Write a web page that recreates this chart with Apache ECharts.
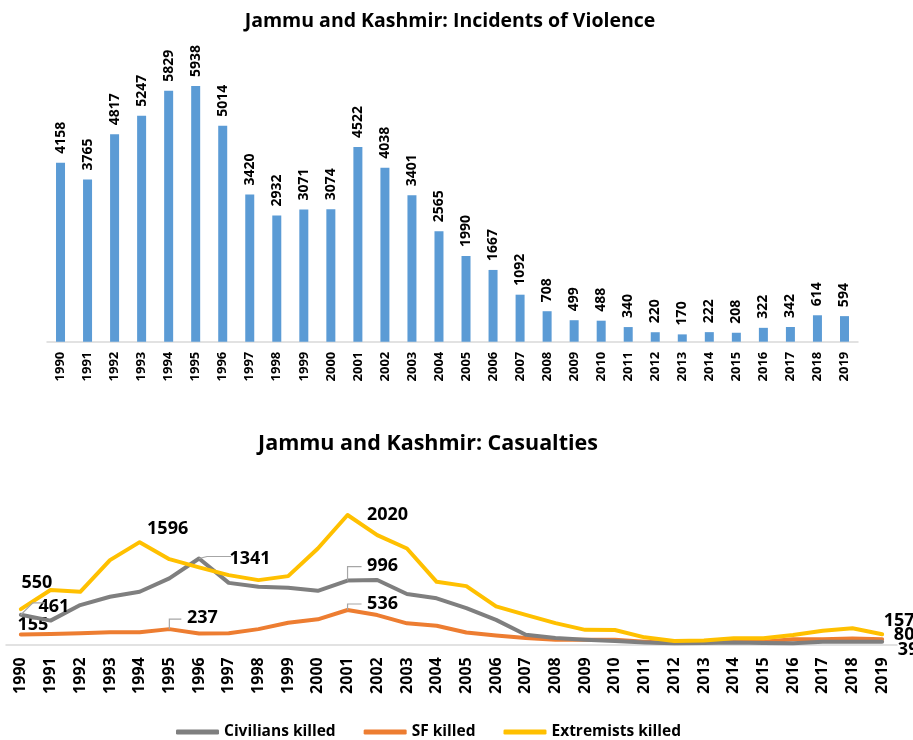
<!DOCTYPE html>
<html>
<head>
<meta charset="utf-8">
<script src="https://cdn.jsdelivr.net/npm/echarts@6/dist/echarts.min.js"></script>
<style>
html,body{margin:0;padding:0;background:#fff;}
#c{width:913px;height:740px;}
</style>
</head>
<body>
<div id="c"></div>
<script>
var years = ['1990','1991','1992','1993','1994','1995','1996','1997','1998','1999','2000','2001','2002','2003','2004','2005','2006','2007','2008','2009','2010','2011','2012','2013','2014','2015','2016','2017','2018','2019'];
var incidents = [4158,3765,4817,5247,5829,5938,5014,3420,2932,3071,3074,4522,4038,3401,2565,1990,1667,1092,708,499,488,340,220,170,222,208,322,342,614,594];
var civilians = [461,370,613,743,821,1030,1341,960,899,883,836,996,1005,785,718,565,382,148,97,70,50,30,15,20,28,20,15,40,40,39];
var sfKilled = [155,160,172,187,190,237,170,172,237,337,390,536,457,328,290,184,137,97,70,70,70,40,20,45,50,40,80,80,90,80];
var extremists = [550,848,821,1315,1596,1330,1201,1081,1003,1065,1497,2020,1705,1497,976,909,592,460,331,226,224,109,50,60,94,94,145,213,250,157];
var seriesNames = ['Civilians killed','SF killed','Extremists killed'];
var titles = ['Jammu and Kashmir: Incidents of Violence','Jammu and Kashmir: Casualties'];

var FONT = '"Open Sans", Lato, sans-serif';
// label placement styles: [dataIndex, dx, dy]
var labelStyles = {
  0: [[0, 33, -8], [6, 51, 0], [11, 35, -15], [29, 26, 8]],
  1: [[0, 12, -10], [5, 33, -11], [11, 35, -6], [29, 22, -4]],
  2: [[0, 16, -26], [4, 28, -13], [11, 40, 0], [29, 17, -13]]
};
// leader lines: [series, dataIndex, bend dx, bend dy, end dx]
var leaders = [
  [0, 0, 12, -12, 12],
  [0, 6, 8, -2, 24],
  [1, 5, 0, -10, 12],
  [0, 11, 0, -14, 14],
  [1, 11, 0, -6, 14]
];

function buildData(values, sIdx) {
  var ls = labelStyles[sIdx];
  return values.map(function (v, i) {
    var item = { value: v };
    for (var k = 0; k < ls.length; k++) {
      if (ls[k][0] === i) {
        item.label = { show: true, position: 'inside', offset: [ls[k][1], ls[k][2]] };
      }
    }
    return item;
  });
}

var colors = ['#7F7F7F', '#ED7D31', '#FFC000'];
var lineValues = [civilians, sfKilled, extremists];

var chart = echarts.init(document.getElementById('c'), null, { renderer: 'canvas' });

var option = {
  backgroundColor: '#fff',
  animation: false,
  title: [
    { text: titles[0], left: 445, top: 6, textAlign: 'center',
      textStyle: { fontFamily: FONT, fontSize: 19.5, fontWeight: 'bold', color: '#000' } },
    { text: titles[1], left: 423, top: 428, textAlign: 'center',
      textStyle: { fontFamily: FONT, fontSize: 21.5, fontWeight: 'bold', color: '#000' } }
  ],
  legend: {
    data: seriesNames,
    left: 171, top: 719,
    icon: 'roundRect', itemWidth: 43, itemHeight: 5, itemGap: 28,
    textStyle: { fontFamily: FONT, fontSize: 15.5, fontWeight: 'bold', color: '#000' }
  },
  grid: [
    { left: 47, width: 811, top: 83.4, height: 258.3 },
    { left: 6, width: 891, top: 484.3, height: 160 }
  ],
  xAxis: [
    { type: 'category', gridIndex: 0, data: years,
      axisLine: { lineStyle: { color: '#D9D9D9', width: 1.5 } },
      axisTick: { show: false },
      axisLabel: { interval: 0, rotate: 90, margin: 10, color: '#000',
        fontFamily: FONT, fontSize: 13, fontWeight: 'bold' } },
    { type: 'category', gridIndex: 1, data: years,
      axisLine: { lineStyle: { color: '#D9D9D9', width: 1.5 } },
      axisTick: { show: false },
      axisLabel: { interval: 0, rotate: 90, margin: 13, color: '#000',
        fontFamily: FONT, fontSize: 16, fontWeight: 'bold' } }
  ],
  yAxis: [
    { type: 'value', gridIndex: 0, min: 0, max: 6000, show: false, splitLine: { show: false } },
    { type: 'value', gridIndex: 1, min: 0, max: 2500, show: false, splitLine: { show: false } }
  ],
  series: [
    { type: 'bar', xAxisIndex: 0, yAxisIndex: 0, data: incidents, barWidth: 9,
      itemStyle: { color: '#5B9BD5' },
      label: { show: true, position: 'top', rotate: 90, align: 'left', verticalAlign: 'middle',
        distance: 9, color: '#000', fontFamily: FONT, fontSize: 14, fontWeight: 'bold' } }
  ].concat(seriesNames.map(function (name, s) {
    return {
      name: name, type: 'line', xAxisIndex: 1, yAxisIndex: 1,
      data: buildData(lineValues[s], s),
      symbol: 'circle', symbolSize: 0, showSymbol: true,
      color: colors[s],
      lineStyle: { width: 4, color: colors[s], cap: 'round', join: 'round' },
      label: { show: false, color: '#000', fontFamily: FONT, fontSize: 18, fontWeight: 'bold' },
      z: 2 + (s === 0 ? 1 : (s === 1 ? 0 : 2))
    };
  }))
};
chart.setOption(option);

var gfx = leaders.map(function (L) {
  var p = chart.convertToPixel({ gridIndex: 1 }, [L[1], lineValues[L[0]][L[1]]]);
  var bx = p[0] + L[2], by = p[1] + L[3];
  return {
    type: 'polyline', z: 10,
    shape: { points: [[p[0], p[1]], [bx, by], [bx + L[4], by]] },
    style: { stroke: '#A6A6A6', lineWidth: 1.2, fill: null }
  };
});
chart.setOption({ graphic: gfx });
</script>
</body>
</html>
